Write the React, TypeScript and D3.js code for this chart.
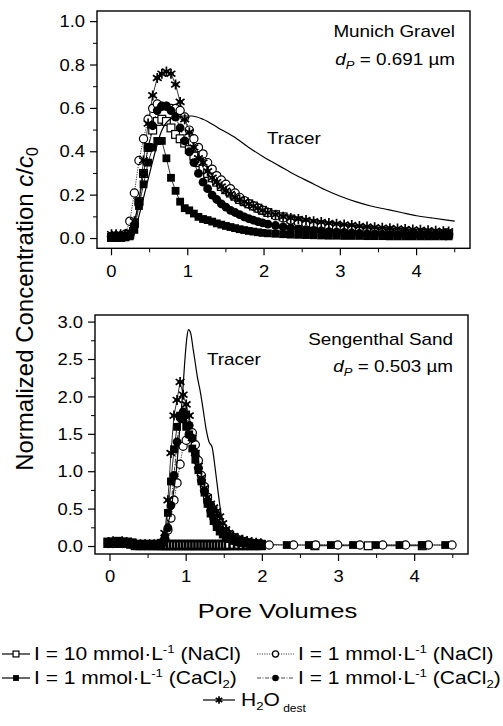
import React from 'react';
import * as d3 from 'd3';

// ---------- DATA ----------
// Top panel: Munich Gravel (shared pore-volume sampling)
const xTop = [0.00,0.06,0.12,0.18,0.24,0.30,0.36,0.42,0.48,0.54,
  0.60,0.66,0.72,0.78,0.84,0.90,0.96,1.02,1.08,1.14,
  1.20,1.26,1.32,1.38,1.44,1.50,1.56,1.62,1.68,1.74,
  1.80,1.86,1.92,1.98,
  2.05,2.15,2.25,2.35,2.45,2.55,2.65,2.75,2.85,2.95,
  3.05,3.15,3.25,3.35,3.45,3.55,3.65,3.75,3.85,3.95,
  4.05,4.15,4.25,4.35,4.42];
const topNaCl10 = [.005,.005,.005,.01,.02,.07,.17,.30,.42,.50, .54,.55,.54,.51,.48,.46,.44,.41,.38,.35, .32,.30,.28,.26,.24,.225,.21,.195,.18,.17, .16,.15,.14,.13,
  .12,.11,.10,.09,.082,.075,.068,.062,.056,.051, .047,.043,.04,.037,.034,.032,.03,.028,.026,.024, .023,.022,.021,.02,.02];
const topNaCl1 = [.01,.01,.01,.02,.08,.21,.36,.46,.55,.60, .62,.61,.61,.60,.60,.59,.56,.50,.46,.42, .39,.35,.32,.29,.27,.25,.23,.21,.19,.175, .16,.15,.14,.13,
  .12,.105,.095,.085,.075,.068,.062,.056,.05,.046, .042,.038,.035,.032,.03,.028,.026,.024,.022,.021, .02,.019,.018,.017,.017];
const topCaCl2a = [.005,.005,.005,.005,.01,.04,.15,.25,.35,.42, .45,.45,.37,.28,.22,.17,.14,.13,.115,.10, .09,.085,.078,.07,.064,.058,.053,.048,.043,.039, .035,.032,.029,.026,
  .024,.022,.02,.018,.017,.016,.015,.014,.013,.013, .012,.012,.012,.011,.011,.011,.01,.01,.01,.01, .01,.01,.01,.01,.01];
const topCaCl2b = [.01,.01,.01,.01,.02,.06,.17,.30,.42,.52, .59,.61,.61,.59,.56,.51,.45,.40,.35,.30, .26,.23,.20,.18,.16,.145,.13,.12,.11,.10, .092,.085,.078,.072,
  .066,.06,.054,.049,.045,.041,.038,.035,.032,.03, .028,.026,.024,.022,.021,.02,.019,.018,.017,.016, .015,.015,.014,.014,.014];
const topH2O = [.02,.02,.02,.02,.03,.08,.17,.36,.53,.66, .74,.76,.77,.76,.71,.63,.55,.49,.42,.37, .35,.31,.28,.26,.24,.22,.205,.19,.18,.17, .16,.15,.14,.13,
  .12,.11,.10,.095,.09,.085,.08,.076,.072,.068, .065,.062,.058,.055,.052,.05,.048,.046,.044,.042, .04,.038,.036,.034,.033];
const topTracerX = [0,0.1,0.2,0.28,0.35,0.45,0.55,0.65,0.75,0.85,0.95,1.05,1.2,1.4,1.6,1.8,2.0,2.2,2.4,2.6,2.8,3.0,3.2,3.4,3.6,3.8,4.0,4.2,4.4,4.5];
const topTracerY = [0,0,0,0.005,0.09,0.23,0.37,0.49,0.545,0.56,0.565,0.565,0.55,0.51,0.47,0.42,0.375,0.335,0.295,0.26,0.225,0.195,0.17,0.15,0.135,0.12,0.105,0.095,0.085,0.08];

// Bottom panel: Sengenthal Sand
const xBot = [-0.02,0.04,0.10,0.16,0.22,0.28,0.34,0.40,0.46,0.52,0.58,0.64,0.68,0.72,0.76,0.80,0.84,0.88,0.92,0.96,
  1.00,1.04,1.08,1.12,1.16,1.20,1.24,1.28,1.32,1.36,1.40,1.44,1.48,1.52,1.56,1.62,1.68,1.74,1.80,1.86,1.92,1.98];
const botNaCl10 = [.05,.05,.06,.05,.05,.04, .02,.02,.02,.02,.02,.02, .02,.02,.02,.02,.02,.02,.02,.02, .02,.02,.02,.02,.02,.02,.02,.02,.02,.02, .02,.02,.02,.02,.02,.02,.02,.02,.02,.02, .02,.02];
const botNaCl10TailX = [2.69,3.39,4.10];
const botNaCl10TailY = [0.01,0.01,0.01];
const botNaCl1 = [.04,.04,.05,.04,.04,.03, .02,.02,.02,.02,.02,.03, .05,.10,.22,.38,.62,.85,1.10,1.34, 1.42,1.50,1.52,1.36,1.15,.95,.80,.66,.55,.46, .38,.31,.25,.20,.16,.12,.09,.07,.055,.045, .04,.035];
const botNaCl1TailX = [2.09,2.41,2.70,2.99,3.28,3.58,3.88,4.18,4.49];
const botNaCl1TailY = [0.02,0.02,0.02,0.02,0.02,0.02,0.02,0.02,0.02];
const botCaCl2a = [.04,.05,.05,.04,.04,.03, .02,.02,.02,.02,.02,.02, .04,.12,.45,.87,1.30,1.60,1.75,1.70, 1.60,1.50,1.31,1.16,1.02,.87,.72,.57,.44,.34, .26,.20,.16,.13,.10,.08,.065,.05,.04,.035, .03,.03];
const botCaCl2aTailX = [2.32,2.61,2.90,3.19,3.49,3.80,4.10,4.40];
const botCaCl2aTailY = [0.02,0.02,0.02,0.02,0.02,0.02,0.02,0.02];
const botCaCl2b = [.05,.06,.05,.06,.05,.04, .03,.03,.03,.03,.03,.03, .05,.10,.25,.55,.95,1.40,1.72,1.80, 1.76,1.62,1.45,1.25,1.05,.88,.74,.60,.48,.38, .30,.23,.18,.14,.11,.08,.06,.05,.045,.04, .035,.03];
const botH2O = [.06,.07,.06,.07,.06,.05, .03,.03,.03,.03,.03,.03, .06,.18,.62,1.25,1.75,1.96,2.20,2.03, 1.90,1.75,1.45,1.25,1.08,.92,.78,.66,.57,.52, .47,.40,.31,.23,.18,.14,.11,.09,.075,.062, .052,.045];
const botTracerX = [0,0.3,0.6,0.65,0.70,0.75,0.79,0.83,0.87,0.91,0.95,0.98,1.01,1.03,1.06,1.09,1.12,1.15,1.18,1.22,1.26,1.30,1.34,1.38,1.42,1.46,1.50,1.55,1.62,1.75,2.0];
const botTracerY = [0.01,0.01,0.02,0.05,0.15,0.28,0.42,0.70,1.00,1.50,2.00,2.45,2.80,2.90,2.85,2.65,2.45,2.25,2.10,1.85,1.58,1.40,1.33,1.05,0.72,0.42,0.20,0.08,0.03,0.02,0.02];

// Ticks
const xTicks = [0, 1, 2, 3, 4];
const xMinor = [0.5, 1.5, 2.5, 3.5, 4.5];
const yTicksTop = [0, 0.2, 0.4, 0.6, 0.8, 1.0];
const yMinorTop = [0.1, 0.3, 0.5, 0.7, 0.9];
const yTicksBot = [0, 0.5, 1.0, 1.5, 2.0, 2.5, 3.0];
const yMinorBot = [0.25, 0.75, 1.25, 1.75, 2.25, 2.75];

// ---------- STYLES ----------
const FONT = '"Liberation Sans", Arial, Helvetica, sans-serif';
type MType = 'sqOpen' | 'circOpen' | 'sqFill' | 'circFill' | 'star';
const lineDash: Record<MType, string | undefined> = {
  sqOpen: undefined, circOpen: '1.2,1.2', sqFill: undefined, circFill: '4,1.5,1,1.5', star: undefined,
};

function Marker({ t, x, y, k = 1, sw = 1.2 }: { t: MType; x: number; y: number; k?: number; sw?: number }) {
  const s = 3.9 * k;
  if (t === 'sqOpen') return <rect x={x - s} y={y - s} width={2 * s} height={2 * s} fill="#fff" stroke="#000" strokeWidth={sw} />;
  if (t === 'sqFill') return <rect x={x - s} y={y - s} width={2 * s} height={2 * s} fill="#000" />;
  if (t === 'circOpen') return <circle cx={x} cy={y} r={4.1 * k} fill="#fff" stroke="#000" strokeWidth={1.2} />;
  if (t === 'circFill') return <circle cx={x} cy={y} r={4.4 * k} fill="#000" />;
  const a = 5 * k, b = 4.4 * k, c = 2.8 * k;
  return (
    <path d={`M${x},${y - a}V${y + a}M${x - b},${y - c}L${x + b},${y + c}M${x - b},${y + c}L${x + b},${y - c}M${x - c},${y}H${x + c}`}
      stroke="#000" strokeWidth={1.7} fill="none" />
  );
}

function ST({ x, y, size, sx = 1.15, anchor = 'start', children, style }: any) {
  return (
    <text transform={`translate(${x},${y}) scale(${sx},1)`} fontSize={size} textAnchor={anchor}
      fontFamily={FONT} fill="#000" style={style}>{children}</text>
  );
}

type Series = { t: MType; xs: number[]; ys: number[]; sw?: number };

function Panel({ xs, ys, series, tracerX, tracerY, yTicks, yMinor, fmt, labelRight, labelBase, name, dp, tracerPos }: any) {
  const [x0, x1] = xs.range();
  const [yb, yt] = ys.range();
  const line = d3.line<[number, number]>().x(d => xs(d[0])).y(d => ys(d[1]));
  const tracer = d3.line<[number, number]>().x(d => xs(d[0])).y(d => ys(d[1])).curve(d3.curveMonotoneX);
  return (
    <g>
      {series.map((s: Series, i: number) => (
        <path key={'l' + i} d={line(s.xs.map((v, j) => [v, s.ys[j]]) as any) || ''} fill="none" stroke="#000"
          strokeWidth={0.8} strokeDasharray={lineDash[s.t]} />
      ))}
      {series.map((s: Series, i: number) => (
        <g key={'m' + i}>
          {s.xs.map((v, j) => <Marker key={j} t={s.t} x={xs(v)} y={ys(s.ys[j])} sw={s.sw} />)}
        </g>
      ))}
      <path d={tracer(tracerX.map((v: number, j: number) => [v, tracerY[j]])) || ''} fill="none" stroke="#000" strokeWidth={1.2} />
      <rect x={x0} y={yt} width={x1 - x0} height={yb - yt} fill="none" stroke="#000" strokeWidth={1.4} />
      {yTicks.map((v: number) => (
        <g key={'yt' + v}>
          <line x1={x0} x2={x0 - 7} y1={ys(v)} y2={ys(v)} stroke="#000" strokeWidth={1.2} />
          <ST x={labelRight} y={ys(v) + 5.6} size={16} anchor="end">{fmt(v)}</ST>
        </g>
      ))}
      {yMinor.map((v: number) => (
        <line key={'ym' + v} x1={x0} x2={x0 - 4} y1={ys(v)} y2={ys(v)} stroke="#000" strokeWidth={1} />
      ))}
      {xTicks.map((v: number) => (
        <g key={'xt' + v}>
          <line x1={xs(v)} x2={xs(v)} y1={yb} y2={yb + 7} stroke="#000" strokeWidth={1.2} />
          <ST x={xs(v)} y={labelBase} size={16} anchor="middle">{v}</ST>
        </g>
      ))}
      {xMinor.map((v: number) => (
        <line key={'xm' + v} x1={xs(v)} x2={xs(v)} y1={yb} y2={yb + 4} stroke="#000" strokeWidth={1} />
      ))}
      <ST x={name.x} y={name.y} size={16} sx={1.18} anchor="end">{name.text}</ST>
      <ST x={dp.x} y={dp.y} size={16} sx={1.18} anchor="end">
        <tspan fontStyle="italic">d</tspan>
        <tspan fontStyle="italic" fontSize={11} dy={4}>P</tspan>
        <tspan dy={-4}>{dp.text}</tspan>
      </ST>
      <ST x={tracerPos.x} y={tracerPos.y} size={16} sx={1.18}>Tracer</ST>
    </g>
  );
}

function LegendSym({ t, x1, x2, y }: { t: MType; x1: number; x2: number; y: number }) {
  const dashed = t === 'circOpen' || t === 'circFill';
  return (
    <g>
      <line x1={x1} x2={x2} y1={y} y2={y} stroke={dashed ? '#333' : '#000'} strokeWidth={dashed ? 0.9 : 1.2}
        strokeDasharray={lineDash[t]} />
      <Marker t={t} x={(x1 + x2) / 2} y={y} k={0.75} />
    </g>
  );
}

function LegendText({ x, y, conc, salt, sub }: { x: number; y: number; conc: string; salt: string; sub?: string }) {
  return (
    <ST x={x} y={y} size={17.5} sx={1.2}>
      <tspan>{`I = ${conc} mmol·L`}</tspan>
      <tspan fontSize={11} dy={-7}>-1</tspan>
      <tspan dy={7}>{` (${salt}`}</tspan>
      {sub ? <tspan fontSize={11} dy={4}>{sub}</tspan> : null}
      <tspan dy={sub ? -4 : 0}>)</tspan>
    </ST>
  );
}

export default function App() {
  const xT = d3.scaleLinear().domain([-0.19, 4.70]).range([97, 470]);
  const yT = d3.scaleLinear().domain([-0.045, 1.049]).range([248.3, 11]);
  const xB = d3.scaleLinear().domain([-0.197, 4.70]).range([95, 468]);
  const yB = d3.scaleLinear().domain([-0.1, 3.095]).range([554, 315]);

  const topSeries: Series[] = [
    { t: 'sqOpen', xs: xTop, ys: topNaCl10 },
    { t: 'circOpen', xs: xTop, ys: topNaCl1 },
    { t: 'sqFill', xs: xTop, ys: topCaCl2a },
    { t: 'circFill', xs: xTop, ys: topCaCl2b },
    { t: 'star', xs: xTop, ys: topH2O },
  ];
  const botSeries: Series[] = [
    { t: 'sqOpen', xs: xBot, ys: botNaCl10, sw: 2.6 },
    { t: 'sqOpen', xs: botNaCl10TailX, ys: botNaCl10TailY },
    { t: 'circOpen', xs: xBot.concat(botNaCl1TailX), ys: botNaCl1.concat(botNaCl1TailY) },
    { t: 'sqFill', xs: xBot.concat(botCaCl2aTailX), ys: botCaCl2a.concat(botCaCl2aTailY) },
    { t: 'circFill', xs: xBot, ys: botCaCl2b },
    { t: 'star', xs: xBot, ys: botH2O },
  ];

  return (
    <svg width={503} height={726} style={{ position: 'absolute', left: 0, top: 0, background: '#fff' }}>
      <rect width={503} height={726} fill="#fff" />
      <Panel xs={xT} ys={yT} series={topSeries} tracerX={topTracerX} tracerY={topTracerY}
        yTicks={yTicksTop} yMinor={yMinorTop} fmt={(v: number) => v.toFixed(1)} labelRight={85} labelBase={277}
        name={{ x: 455, y: 36.5, text: 'Munich Gravel' }} dp={{ x: 455, y: 64.5, text: ' = 0.691 µm' }}
        tracerPos={{ x: 267, y: 143.5 }} />
      <Panel xs={xB} ys={yB} series={botSeries} tracerX={botTracerX} tracerY={botTracerY}
        yTicks={yTicksBot} yMinor={yMinorBot} fmt={(v: number) => v.toFixed(1)} labelRight={83} labelBase={582}
        name={{ x: 453, y: 344.5, text: 'Sengenthal Sand' }} dp={{ x: 453, y: 371.5, text: ' = 0.503 µm' }}
        tracerPos={{ x: 207, y: 364.5 }} />

      {/* Y axis title */}
      <text transform="translate(33,309) rotate(-90)" textAnchor="middle" fontSize={24} fontFamily={FONT}>
        <tspan>Normalized Concentration </tspan>
        <tspan fontStyle="italic">c</tspan>
        <tspan>/</tspan>
        <tspan fontStyle="italic">c</tspan>
        <tspan fontSize={16} dy={5}>0</tspan>
      </text>

      {/* X axis title */}
      <ST x={277.5} y={618} size={20} sx={1.28} anchor="middle">Pore Volumes</ST>

      {/* Legend */}
      <LegendSym t="sqOpen" x1={2} x2={30} y={654} />
      <LegendText x={34} y={660} conc="10" salt="NaCl" />
      <LegendSym t="circOpen" x1={257} x2={294} y={654} />
      <LegendText x={298} y={660} conc="1" salt="NaCl" />
      <LegendSym t="sqFill" x1={2} x2={30} y={678} />
      <LegendText x={34} y={684} conc="1" salt="CaCl" sub="2" />
      <LegendSym t="circFill" x1={257} x2={294} y={678} />
      <LegendText x={298} y={684} conc="1" salt="CaCl" sub="2" />
      <LegendSym t="star" x1={203} x2={235} y={700} />
      <ST x={241} y={706} size={17.5} sx={1.2}>
        <tspan>H</tspan>
        <tspan fontSize={11} dy={4}>2</tspan>
        <tspan dy={-4}>O</tspan>
        <tspan fontSize={10} dy={6}>{' dest'}</tspan>
      </ST>
    </svg>
  );
}
